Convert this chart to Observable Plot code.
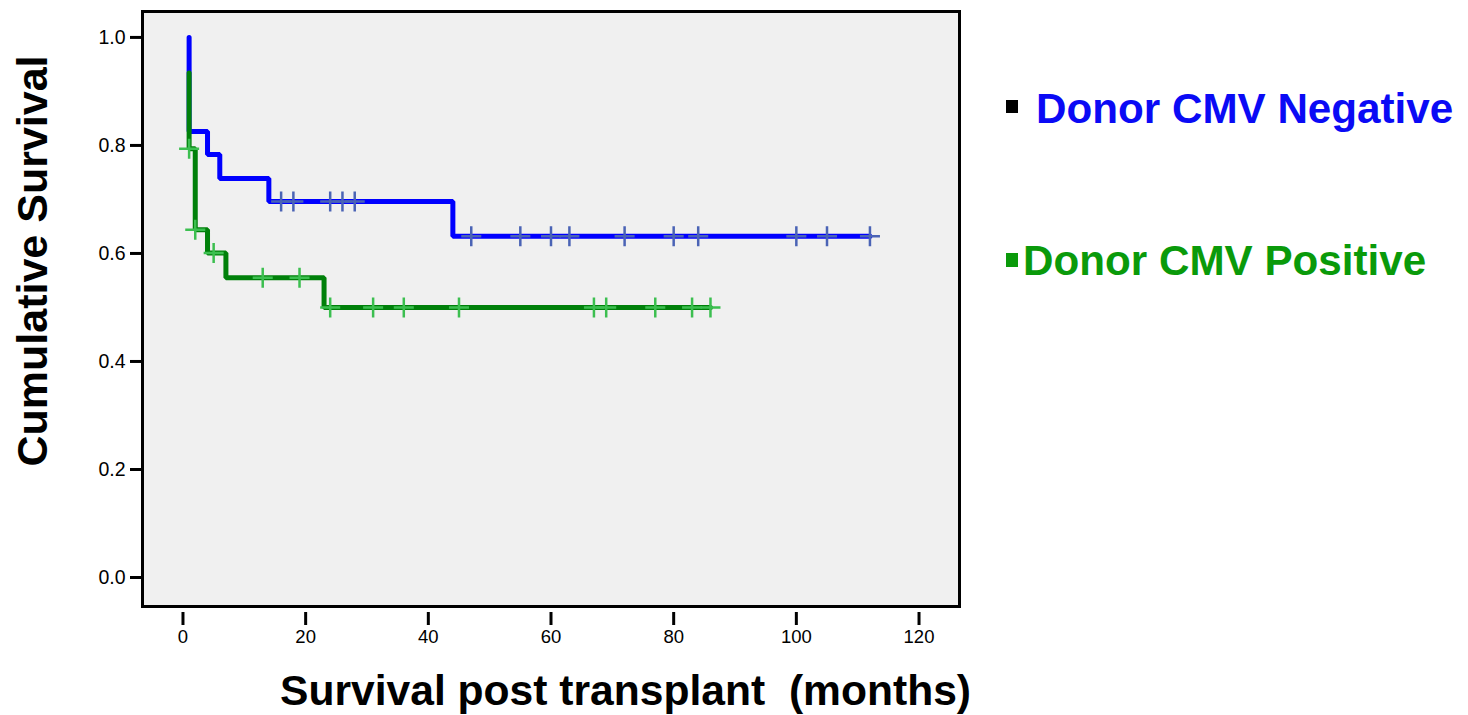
<!DOCTYPE html>
<html>
<head>
<meta charset="utf-8">
<script src="https://cdn.jsdelivr.net/npm/d3@7"></script>
<script src="https://cdn.jsdelivr.net/npm/@observablehq/plot@0.6"></script>
<style>
  html, body { margin: 0; padding: 0; background: #ffffff; }
  #wrap { position: relative; width: 1468px; height: 715px; overflow: hidden; font-family: "Liberation Sans", Arial, sans-serif; }
  #chart { position: absolute; left: 0; top: 0; }
  #chart svg text { font-family: "Liberation Sans", Arial, sans-serif !important; fill: #000; }
  #chart svg g[aria-label="y-axis tick label"] text { font-size: 19.5px !important; }
  #chart svg g[aria-label="x-axis tick label"] text { font-size: 18.5px !important; }
  .lbl { position: absolute; white-space: nowrap; font-weight: bold; line-height: 1; }
  .sq { position: absolute; }
</style>
</head>
<body>
<div id="wrap">
  <div id="chart"></div>
  <div class="lbl" id="ytitle" style="font-size:43px; left:32px; top:261px; transform: translate(-50%,-50%) rotate(-90deg); color:#000;">Cumulative Survival</div>
  <div class="lbl" id="xtitle" style="font-size:42.6px; left:280px; top:669px; color:#000;">Survival post transplant&nbsp;&nbsp;(months)</div>
  <div class="sq" style="left:1006px; top:100px; width:12px; height:13px; background:#000;"></div>
  <div class="lbl" style="font-size:42.2px; left:1036px; top:88px; color:#0a0af5;">Donor CMV Negative</div>
  <div class="sq" style="left:1006px; top:253px; width:12px; height:14px; background:#0a9a0a;"></div>
  <div class="lbl" style="font-size:42.2px; left:1023px; top:240px; color:#0a9a0a;">Donor CMV Positive</div>
</div>
<script>
// Donor CMV Negative: Kaplan-Meier steps
const negTime = [1, 1, 4, 6, 14, 44, 112];
const negSurv = [1.0, 0.826, 0.783, 0.739, 0.696, 0.632, 0.632];
// censored marks (Negative)
const negCensorTime = [16, 18, 24, 26, 28, 47, 55, 60, 63, 72, 80, 84, 100, 105, 112];
const negCensorSurv = [0.696, 0.696, 0.696, 0.696, 0.696, 0.632, 0.632, 0.632, 0.632, 0.632, 0.632, 0.632, 0.632, 0.632, 0.632];

// Donor CMV Positive: Kaplan-Meier steps
const posTime = [1, 1, 2, 4, 7, 23, 86];
const posSurv = [0.934, 0.794, 0.644, 0.601, 0.555, 0.5, 0.5];
// censored marks (Positive)
const posCensorTime = [1, 2, 5, 13, 19, 24, 31, 36, 45, 67, 69, 77, 83, 86];
const posCensorSurv = [0.794, 0.644, 0.601, 0.555, 0.555, 0.5, 0.5, 0.5, 0.5, 0.5, 0.5, 0.5, 0.5, 0.5];

const xTicks = [0, 20, 40, 60, 80, 100, 120];
const yTicks = [0.0, 0.2, 0.4, 0.6, 0.8, 1.0];

const negLine = negTime.map((t, i) => ({t, s: negSurv[i]}));
const posLine = posTime.map((t, i) => ({t, s: posSurv[i]}));
const negCens = negCensorTime.map((t, i) => ({t, s: negCensorSurv[i]}));
const posCens = posCensorTime.map((t, i) => ({t, s: posCensorSurv[i]}));

const chart = Plot.plot({
  width: 1468,
  height: 715,
  marginLeft: 142,
  marginRight: 509,
  marginTop: 11,
  marginBottom: 109,
  style: {background: "transparent", color: "#000"},
  x: {domain: [-6.6, 126.6]},
  y: {domain: [-0.0537, 1.048]},
  marks: [
    Plot.frame({fill: "#f0f0f0"}),
    Plot.axisY({ticks: yTicks, tickSize: 12, tickPadding: 5, tickFormat: d3.format(".1f"), strokeWidth: 3, label: null}),
    Plot.axisX({ticks: xTicks, tickSize: 13, tickPadding: 4, dy: 6, strokeWidth: 3, label: null}),
    Plot.line(negLine, {x: "t", y: "s", curve: "step-after", stroke: "#0000ff", strokeWidth: 5, strokeLinejoin: "miter"}),
    Plot.line(posLine, {x: "t", y: "s", curve: "step-after", stroke: "#00800a", strokeWidth: 5, strokeLinejoin: "miter"}),
    Plot.dot(negCens, {x: "t", y: "s", symbol: "plus", r: 6.5, stroke: "#4a63b5", strokeWidth: 2.5}),
    Plot.dot(posCens, {x: "t", y: "s", symbol: "plus", r: 6.5, stroke: "#3cbf50", strokeWidth: 2.5}),
    Plot.frame({stroke: "#000", strokeWidth: 3})
  ]
});
document.getElementById("chart").appendChild(chart);
</script>
</body>
</html>
